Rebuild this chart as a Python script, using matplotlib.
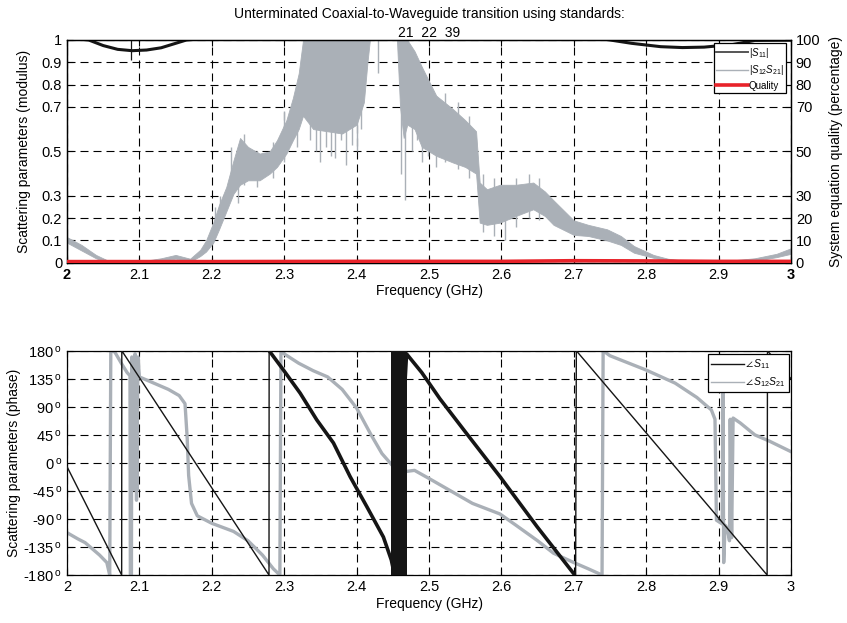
import numpy as np
import matplotlib
matplotlib.use('Agg')
import matplotlib.pyplot as plt
from matplotlib.lines import Line2D

plt.rcParams['font.family'] = ['Liberation Sans', 'DejaVu Sans']
plt.rcParams['mathtext.fontset'] = 'custom'
plt.rcParams['mathtext.rm'] = 'Liberation Sans'
plt.rcParams['mathtext.it'] = 'Liberation Sans:italic'
plt.rcParams['font.size'] = 10

GRAY = '#aab0b7'
BLACK = '#151515'
RED = '#e8232a'

# ---- top panel: modulus ----
# |S11| (black)
s11_f = [2.000, 2.030, 2.050, 2.070, 2.090, 2.110, 2.130, 2.150, 2.165, 2.200,
         2.500, 2.740, 2.750, 2.780, 2.820, 2.850, 2.880, 2.920, 2.950, 3.000]
s11_mag = [1.010, 1.000, 0.975, 0.958, 0.952, 0.955, 0.965, 0.985, 1.000, 1.010,
           1.010, 1.005, 1.000, 0.985, 0.970, 0.966, 0.968, 0.980, 0.998, 0.999]
# small glitch of |S11| at 2.089 GHz
s11_glitch_f = [2.089]
s11_glitch_lo = [0.912]
s11_glitch_hi = [1.0]

# |S12 S21| (gray, noisy band: lower / upper envelope)
s21_f = [2.000, 2.020, 2.040, 2.055, 2.100, 2.130, 2.150, 2.170, 2.184, 2.192, 2.202, 2.210,
         2.220, 2.230, 2.239, 2.250, 2.266, 2.280, 2.290, 2.303, 2.312, 2.320, 2.326, 2.340,
         2.360, 2.380, 2.400, 2.410, 2.415, 2.420, 2.455, 2.460, 2.465, 2.470, 2.480, 2.490,
         2.510, 2.533, 2.550, 2.565, 2.570, 2.580, 2.598, 2.620, 2.644, 2.660, 2.672, 2.700,
         2.720, 2.746, 2.765, 2.783, 2.810, 2.830, 2.850, 2.900, 2.950, 2.980, 3.000]
s21_lo = [0.090, 0.055, 0.020, 0.002, 0.000, 0.010, 0.018, 0.004, 0.030, 0.050, 0.090, 0.150,
          0.230, 0.310, 0.350, 0.370, 0.370, 0.400, 0.430, 0.490, 0.550, 0.600, 0.660, 0.600,
          0.590, 0.580, 0.620, 0.720, 0.900, 1.050, 1.050, 0.700, 0.560, 0.620, 0.600, 0.520,
          0.480, 0.450, 0.430, 0.400, 0.180, 0.170, 0.180, 0.210, 0.240, 0.210, 0.170, 0.125,
          0.120, 0.100, 0.080, 0.045, 0.022, 0.008, 0.002, 0.000, 0.008, 0.025, 0.040]
s21_hi = [0.115, 0.080, 0.035, 0.012, 0.005, 0.020, 0.035, 0.018, 0.058, 0.100, 0.180, 0.260,
          0.340, 0.460, 0.560, 0.520, 0.490, 0.500, 0.550, 0.640, 0.740, 0.850, 1.000, 1.050,
          1.050, 1.050, 1.050, 1.050, 1.050, 1.060, 1.060, 1.050, 1.050, 1.000, 0.950, 0.880,
          0.750, 0.690, 0.640, 0.590, 0.360, 0.330, 0.350, 0.350, 0.360, 0.320, 0.280, 0.190,
          0.170, 0.150, 0.120, 0.075, 0.035, 0.018, 0.010, 0.005, 0.020, 0.040, 0.065]
# isolated spikes of |S12 S21|
spike_f = [2.205, 2.212, 2.226, 2.236, 2.245, 2.262, 2.284, 2.300, 2.318, 2.336, 2.344,
           2.350, 2.358, 2.365, 2.370, 2.378, 2.385, 2.393, 2.400, 2.406, 2.430, 2.462,
           2.467, 2.476, 2.483, 2.490, 2.498, 2.510, 2.522, 2.540, 2.555, 2.575, 2.590,
           2.605, 2.620, 2.638, 2.652]
spike_lo = [0.15, 0.25, 0.30, 0.27, 0.35, 0.34, 0.38, 0.45, 0.52, 0.55, 0.50,
            0.45, 0.52, 0.48, 0.47, 0.55, 0.44, 0.53, 0.50, 0.60, 0.85, 0.40,
            0.28, 0.50, 0.55, 0.45, 0.48, 0.43, 0.45, 0.42, 0.38, 0.14, 0.12,
            0.10, 0.16, 0.20, 0.19]
spike_hi = [0.25, 0.30, 0.52, 0.40, 0.58, 0.50, 0.54, 0.68, 0.78, 0.70, 0.70,
            0.60, 0.65, 0.62, 0.60, 0.65, 0.60, 0.66, 0.65, 0.75, 1.00, 0.70,
            0.60, 0.95, 0.90, 0.85, 0.80, 0.75, 0.76, 0.72, 0.66, 0.40, 0.38,
            0.25, 0.38, 0.40, 0.38]

# Quality (red, percentage, right axis)
q_f = [2.0, 2.2, 2.4, 2.5, 2.6, 2.7, 2.8, 2.9, 3.0]
q_val = [0.5, 0.5, 0.6, 0.6, 0.6, 0.9, 0.8, 0.6, 0.6]

# ---- bottom panel: phase (degrees) ----
p11_f = [2.000, 2.0755, 2.0757, 2.279, 2.2792, 2.299, 2.322, 2.345, 2.368, 2.391, 2.414,
         2.437, 2.448, 2.452, 2.469, 2.490, 2.515, 2.550, 2.598, 2.649, 2.700, 2.7025,
         2.7035, 2.967, 2.9675, 3.000]
p11_deg = [-6, -180, 180, -180, 180, 149, 112, 69, 32, -22, -70,
           -119, -156, -178, 175, 145, 103, 50, -22, -102, -178, -180,
           180, -180, 180, 135]
# dense wrapping region of angle S11
p11_band_f = [2.447, 2.469]

p21_f = [2.000, 2.015, 2.025, 2.035, 2.045, 2.055, 2.059, 2.0605, 2.066, 2.075, 2.083,
         2.087, 2.0875, 2.089, 2.0895, 2.092, 2.094, 2.096, 2.098, 2.100, 2.120, 2.140,
         2.155, 2.163, 2.166, 2.168, 2.172, 2.180, 2.200, 2.230, 2.250, 2.270, 2.285,
         2.294, 2.2955, 2.300, 2.320, 2.340, 2.360, 2.380, 2.400, 2.420, 2.435, 2.450,
         2.460, 2.480, 2.500, 2.530, 2.560, 2.598, 2.620, 2.650, 2.672, 2.700, 2.720,
         2.739, 2.7405, 2.750, 2.800, 2.840, 2.870, 2.890, 2.895, 2.897, 2.905, 2.906,
         2.907, 2.909, 2.912, 2.915, 2.916, 2.918, 2.920, 2.930, 2.950, 2.970, 3.000]
p21_deg = [-112, -122, -128, -138, -148, -160, -180, 180, 178, 160, 145,
           140, -180, -180, 170, -40, 175, -60, 170, 138, 128, 118,
           108, 95, 40, -20, -65, -85, -97, -110, -125, -148, -170,
           -180, 180, 175, 160, 148, 138, 118, 88, 45, 15, -5,
           -15, -12, -25, -45, -65, -82, -100, -125, -145, -160, -170,
           -180, 180, 172, 149, 128, 105, 85, 70, -92, -98, 120,
           -160, -100, -105, -125, 70, -120, 72, 64, 45, 35, 18]
# noisy band of angle S12S21 around 2.09-2.10 GHz
p21_band_f = [2.088, 2.100]
p21_band_lo = [-45, -45]
p21_band_hi = [170, 170]

xticks = [2, 2.1, 2.2, 2.3, 2.4, 2.5, 2.6, 2.7, 2.8, 2.9, 3]
xticklabels = ['2', '2.1', '2.2', '2.3', '2.4', '2.5', '2.6', '2.7', '2.8', '2.9', '3']
mag_ticks = [0, 0.1, 0.2, 0.3, 0.5, 0.7, 0.8, 0.9, 1]
mag_labels = ['0', '0.1', '0.2', '0.3', '0.5', '0.7', '0.8', '0.9', '1']
pct_ticks = [0, 10, 20, 30, 50, 70, 80, 90, 100]
deg_ticks = [-180, -135, -90, -45, 0, 45, 90, 135, 180]
deg_labels = [f'{d}' + r'$\,^{\mathrm{o}}$' for d in deg_ticks]

fig = plt.figure(figsize=(8.47, 6.23), dpi=100)
ax1 = fig.add_axes([0.0791, 0.5783, 0.8548, 0.3575])
ax2 = fig.add_axes([0.0791, 0.0770, 0.8548, 0.3600])

grid_kw = dict(color='black', linestyle=(0, (7.2, 4.5)), linewidth=0.8)

# top
ax1.fill_between(s21_f, s21_lo, s21_hi, color=GRAY, linewidth=0.6, zorder=2)
ax1.vlines(spike_f, spike_lo, spike_hi, color=GRAY, linewidth=1.0, zorder=2)
ax1.plot(s11_f, s11_mag, color=BLACK, linewidth=2.2, zorder=3)
ax1.vlines(s11_glitch_f, s11_glitch_lo, s11_glitch_hi, color=BLACK, linewidth=0.9, zorder=3)
ax1.set_xlim(2, 3)
ax1.set_ylim(0, 1)
ax1.set_xticks(xticks)
ax1.set_xticklabels(xticklabels)
ax1.set_yticks(mag_ticks)
ax1.set_yticklabels(mag_labels)
ax1.grid(True, **grid_kw)
ax1.set_axisbelow(True)
ax1.tick_params(direction='in', top=True, length=4, labelsize=10.5)
for lab in (ax1.get_xticklabels()[0], ax1.get_xticklabels()[-1]):
    lab.set_fontweight('bold')
ax1.set_xlabel('Frequency (GHz)', labelpad=2)
ax1.set_ylabel('Scattering parameters (modulus)', labelpad=8)
ax1.set_title('Unterminated Coaxial-to-Waveguide transition using standards:\n21  22  39',
              fontsize=10, pad=1, linespacing=1.45)

ax1r = ax1.twinx()
ax1r.plot(q_f, q_val, color=RED, linewidth=2.6, zorder=4)
ax1r.set_ylim(0, 100)
ax1r.set_yticks(pct_ticks)
ax1r.tick_params(direction='in', length=4, labelsize=10.5)
ax1r.set_ylabel('System equation quality (percentage)', labelpad=6)

handles = [Line2D([], [], color='#555555', linewidth=1.4),
           Line2D([], [], color=GRAY, linewidth=1.0),
           Line2D([], [], color=RED, linewidth=2.6)]
leg = ax1r.legend(handles, [r'|$S_{11}$|', r'|$S_{12}S_{21}$|', 'Quality'],
                  loc='upper right', bbox_to_anchor=(0.993, 0.985), fontsize=7,
                  frameon=True, fancybox=False, framealpha=1, edgecolor='black',
                  handlelength=3.2, handletextpad=0.1, borderpad=0.25, labelspacing=0.35,
                  borderaxespad=0)
leg.get_frame().set_linewidth(0.9)

# bottom
p11_f_arr = np.array(p11_f)
p11_deg_arr = np.array(p11_deg)
ax2.fill_between(p21_band_f, p21_band_lo, p21_band_hi, color=GRAY, linewidth=0, zorder=2)
ax2.plot(p21_f, p21_deg, color=GRAY, linewidth=2.4, zorder=2)
ax2.plot(p11_f, p11_deg, color=BLACK, linewidth=1.0, zorder=3)
thick = (p11_f_arr >= 2.2792) & (p11_f_arr <= 2.700)
ax2.plot(p11_f_arr[thick], p11_deg_arr[thick], color=BLACK, linewidth=2.6, zorder=3)
ax2.fill_between(p11_band_f, [-180, -180], [180, 180], color=BLACK, linewidth=0, zorder=3)
ax2.set_xlim(2, 3)
ax2.set_ylim(-180, 180)
ax2.set_xticks(xticks)
ax2.set_xticklabels(xticklabels)
ax2.set_yticks(deg_ticks)
ax2.set_yticklabels(deg_labels)
ax2.grid(True, **grid_kw)
ax2.set_axisbelow(True)
ax2.tick_params(direction='in', top=True, right=True, length=4, labelsize=10.5)
ax2.set_xlabel('Frequency (GHz)', labelpad=2)
ax2.set_ylabel('Scattering parameters (phase)', labelpad=2)

handles2 = [Line2D([], [], color=BLACK, linewidth=1.0),
            Line2D([], [], color=GRAY, linewidth=1.0)]
leg2 = ax2.legend(handles2, [r'$\angle\, S_{11}$', r'$\angle\, S_{12}S_{21}$'],
                  loc='upper right', bbox_to_anchor=(0.997, 0.985), fontsize=7.5,
                  frameon=True, fancybox=False, framealpha=1, edgecolor='black',
                  handlelength=3.2, handletextpad=0.1, borderpad=0.3, labelspacing=0.4,
                  borderaxespad=0)
leg2.get_frame().set_linewidth(0.9)
leg2.set_zorder(10)

for ax in (ax1, ax1r, ax2):
    for s in ax.spines.values():
        s.set_linewidth(0.9)

fig.savefig('out.png', dpi=100)
